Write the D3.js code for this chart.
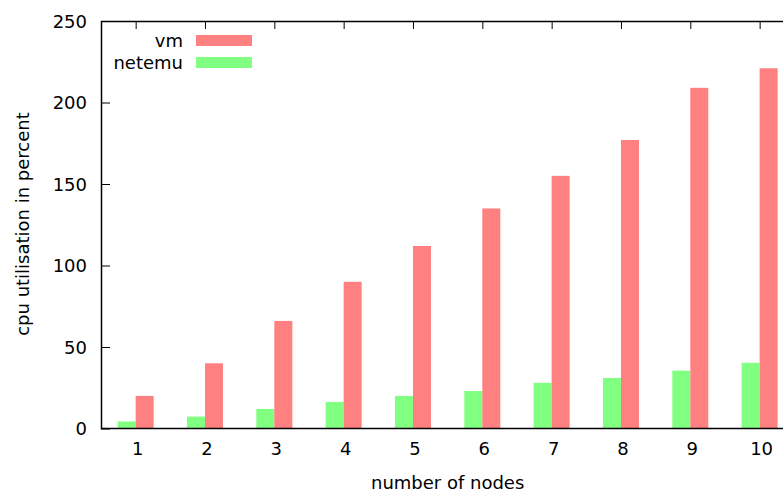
<!DOCTYPE html>
<html>
<head>
<meta charset="utf-8">
<script src="https://cdn.jsdelivr.net/npm/d3@7"></script>
<style>
  body { margin: 0; background: #fff; }
  svg { display: block; font-family: "DejaVu Sans", sans-serif; }
</style>
</head>
<body>
<div id="main-container"></div>
<script>
var nodes = [1, 2, 3, 4, 5, 6, 7, 8, 9, 10];
var vmValues = [20, 40, 66, 90, 112, 135, 155, 177, 209, 221];
var netemuValues = [4.3, 7.3, 12, 16.3, 20, 23, 28, 31, 35.5, 40.3];
var yTicks = [0, 50, 100, 150, 200, 250];
var seriesNames = ["vm", "netemu"];
var seriesColors = ["#ff8080", "#80ff80"];

var chartWidth = 783, chartHeight = 492;
var plotLeft = 101, plotTop = 21, plotBottom = 428.5;
var barWidth = 18;

var svg = d3.select("#main-container")
            .append("svg")
            .attr("width", chartWidth)
            .attr("height", chartHeight);

// x runs half a category past each end; right side gets cropped by the window
var x = d3.scaleLinear().domain([0.5, 10.5]).range([plotLeft, 794.3]);
var y = d3.scaleLinear().domain([0, 250]).range([plotBottom, plotTop]);

// y axis: inward ticks, labels on the left
var yAxis = svg.append("g")
    .attr("transform", "translate(" + plotLeft + ",0)")
    .call(d3.axisRight(y).tickValues(yTicks).tickSize(9).tickFormat(""));
yAxis.select(".domain").remove();
yAxis.selectAll("line").attr("stroke", "#000");

// top mirror ticks
var xTop = svg.append("g")
    .attr("transform", "translate(0," + plotTop + ")")
    .call(d3.axisBottom(x).tickValues(nodes).tickSize(8).tickFormat(""));
xTop.select(".domain").remove();
xTop.selectAll("line").attr("stroke", "#000");

// bars: netemu left of the tick, vm right of it
svg.selectAll("rect.netemu")
    .data(netemuValues)
    .enter()
    .append("rect")
    .attr("class", "netemu")
    .attr("x", function(d, i) { return x(nodes[i]) - barWidth; })
    .attr("y", function(d) { return y(d); })
    .attr("width", barWidth)
    .attr("height", function(d) { return y(0) - y(d); })
    .attr("fill", seriesColors[1]);

svg.selectAll("rect.vm")
    .data(vmValues)
    .enter()
    .append("rect")
    .attr("class", "vm")
    .attr("x", function(d, i) { return x(nodes[i]); })
    .attr("y", function(d) { return y(d); })
    .attr("width", barWidth)
    .attr("height", function(d) { return y(0) - y(d); })
    .attr("fill", seriesColors[0]);

svg.selectAll("text.ylab")
    .data(yTicks)
    .enter()
    .append("text")
    .attr("class", "ylab")
    .attr("x", plotLeft - 14)
    .attr("y", function(d) { return y(d) + 6.5; })
    .attr("text-anchor", "end")
    .attr("font-size", "18px")
    .text(function(d) { return d; });

svg.selectAll("text.xlab")
    .data(nodes)
    .enter()
    .append("text")
    .attr("class", "xlab")
    .attr("x", function(d) { return x(d) + 2; })
    .attr("y", 455)
    .attr("text-anchor", "middle")
    .attr("font-size", "18px")
    .text(function(d) { return d; });

// frame
svg.append("path")
    .attr("d", "M" + (chartWidth + 1) + "," + (plotTop + 0.5) + "H" + (plotLeft + 0.5) + "V" + plotBottom + "H" + (chartWidth + 1))
    .attr("fill", "none")
    .attr("stroke", "#000")
    .attr("stroke-width", 1.5);

// axis titles
svg.append("text")
    .attr("x", x(5.5))
    .attr("y", 489)
    .attr("text-anchor", "middle")
    .attr("font-size", "18px")
    .text("number of nodes");

svg.append("text")
    .attr("transform", "translate(29,224) rotate(-90)")
    .attr("text-anchor", "middle")
    .attr("font-size", "18px")
    .text("cpu utilisation in percent");

// legend
var legend = svg.selectAll("g.legend")
    .data(seriesNames)
    .enter()
    .append("g")
    .attr("class", "legend")
    .attr("transform", function(d, i) { return "translate(0," + (40.5 + i * 22) + ")"; });

legend.append("rect")
    .attr("x", 196)
    .attr("y", -5.5)
    .attr("width", 56)
    .attr("height", 11)
    .attr("fill", function(d, i) { return seriesColors[i]; });

legend.append("text")
    .attr("x", 183)
    .attr("y", 6.3)
    .attr("text-anchor", "end")
    .attr("font-size", "18px")
    .text(function(d) { return d; });
</script>
</body>
</html>
